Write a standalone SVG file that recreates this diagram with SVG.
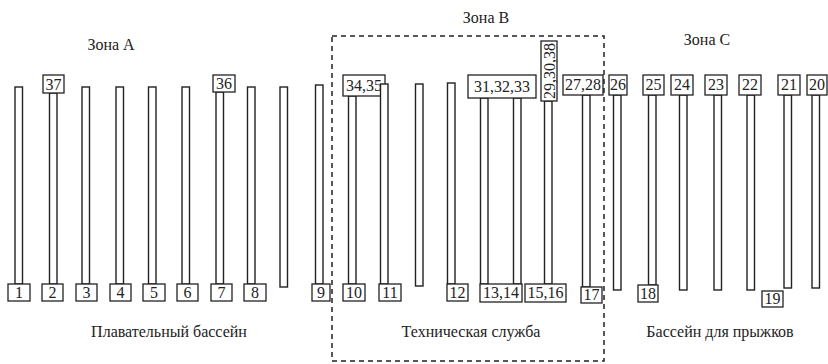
<svg xmlns="http://www.w3.org/2000/svg" width="828" height="364" viewBox="0 0 828 364" font-family="Liberation Serif, Times New Roman, serif">
<style>
.col{fill:#fff;stroke:#222;stroke-width:1.4}
.box{fill:#fff;stroke:#222;stroke-width:1.3}
.t{font-size:16px;fill:#222;text-anchor:middle}
.l{font-size:16px;fill:#222;text-anchor:middle}
.zone{fill:none;stroke:#222;stroke-width:1.5;stroke-dasharray:5,4}
</style>
<rect width="828" height="364" fill="#fff"/>
<g id="zones">
<rect class="zone" x="332" y="36" width="272" height="325"/>
<text class="l" x="111" y="50">Зона А</text>
<text class="l" x="486" y="23">Зона В</text>
<text class="l" x="707" y="45">Зона С</text>
<text class="l" x="169" y="337">Плавательный бассейн</text>
<text class="l" x="471" y="337">Техническая служба</text>
<text class="l" x="720" y="337">Бассейн для прыжков</text>
</g>
<g id="post1"><rect class="col" x="15" y="87" width="7.5" height="197"/><rect class="box" x="8" y="284" width="22" height="17"/><text class="t" x="19" y="298">1</text></g>
<g id="post2"><rect class="col" x="49.5" y="93" width="7.5" height="191"/><rect class="box" x="43" y="75" width="21" height="18"/><text class="t" x="53.5" y="90">37</text><rect class="box" x="42" y="284" width="21" height="17"/><text class="t" x="52.5" y="298">2</text></g>
<g id="post3"><rect class="col" x="82" y="87" width="7.5" height="197"/><rect class="box" x="76" y="284" width="21" height="17"/><text class="t" x="86.5" y="298">3</text></g>
<g id="post4"><rect class="col" x="116" y="87" width="7.5" height="197"/><rect class="box" x="110" y="284" width="21" height="17"/><text class="t" x="120.5" y="298">4</text></g>
<g id="post5"><rect class="col" x="148.5" y="87" width="7.5" height="197"/><rect class="box" x="143" y="284" width="22" height="17"/><text class="t" x="154" y="298">5</text></g>
<g id="post6"><rect class="col" x="182" y="87" width="7.5" height="197"/><rect class="box" x="177" y="284" width="21" height="17"/><text class="t" x="187.5" y="298">6</text></g>
<g id="post7"><rect class="col" x="216" y="92" width="7.5" height="192"/><rect class="box" x="213" y="75" width="22" height="17"/><text class="t" x="224" y="89">36</text><rect class="box" x="211" y="284" width="21" height="17"/><text class="t" x="221.5" y="298">7</text></g>
<g id="post8"><rect class="col" x="247.5" y="87" width="7.5" height="197"/><rect class="box" x="244" y="284" width="22" height="17"/><text class="t" x="255" y="298">8</text></g>
<g id="postA"><rect class="col" x="280" y="87" width="7.5" height="200"/></g>
<g id="post9"><rect class="col" x="315.5" y="85" width="7.5" height="199"/><rect class="box" x="312" y="284" width="18" height="17"/><text class="t" x="321" y="298">9</text></g>
<g id="post10"><rect class="col" x="348.5" y="96" width="7.5" height="188"/><rect class="box" x="343" y="75" width="42" height="21"/><text class="t" x="364" y="91">34,35</text><rect class="box" x="343" y="284" width="22" height="17"/><text class="t" x="354" y="298">10</text></g>
<g id="post11"><rect class="col" x="380.5" y="84" width="7.5" height="200"/><rect class="box" x="379" y="284" width="22" height="17"/><text class="t" x="390" y="298">11</text></g>
<g id="postB"><rect class="col" x="415.5" y="84" width="7.5" height="202"/></g>
<g id="post12"><rect class="col" x="447.5" y="83" width="7.5" height="201"/><rect class="box" x="447" y="284" width="21" height="17"/><text class="t" x="457.5" y="298">12</text></g>
<g id="post13"><rect class="col" x="480.5" y="98" width="7.5" height="186"/><rect class="col" x="513.5" y="98" width="7.5" height="186"/><rect class="box" x="468" y="75" width="68" height="23"/><text class="t" x="502" y="92">31,32,33</text><rect class="box" x="480" y="284" width="42" height="18"/><text class="t" x="501" y="298">13,14</text></g>
<g id="post15"><rect class="col" x="544.5" y="101" width="7.5" height="183"/><rect class="box" x="541" y="41" width="16" height="60"/><text class="t" transform="translate(554.5 71) rotate(-90)">29,30,38</text><rect class="box" x="525" y="284" width="41" height="18"/><text class="t" x="545.5" y="298">15,16</text></g>
<g id="post17"><rect class="col" x="582.5" y="95" width="7.5" height="192"/><rect class="box" x="563" y="75" width="40" height="20"/><text class="t" x="583" y="90">27,28</text><rect class="box" x="581" y="287" width="21" height="16"/><text class="t" x="591.5" y="300">17</text></g>
<g id="post26"><rect class="col" x="613.5" y="95" width="7.5" height="195"/><rect class="box" x="609" y="75" width="18" height="20"/><text class="t" x="618" y="90">26</text></g>
<g id="post25"><rect class="col" x="648.5" y="95" width="7.5" height="190"/><rect class="box" x="643" y="75" width="21" height="20"/><text class="t" x="653.5" y="90">25</text><rect class="box" x="638" y="285" width="20" height="17"/><text class="t" x="648" y="299">18</text></g>
<g id="post24"><rect class="col" x="679.5" y="95" width="7.5" height="195"/><rect class="box" x="671" y="75" width="22" height="20"/><text class="t" x="682" y="90">24</text></g>
<g id="post23"><rect class="col" x="714" y="95" width="7.5" height="195"/><rect class="box" x="705" y="75" width="22" height="20"/><text class="t" x="716" y="90">23</text></g>
<g id="post22"><rect class="col" x="747" y="95" width="7.5" height="195"/><rect class="box" x="739" y="75" width="22" height="20"/><text class="t" x="750" y="90">22</text></g>
<g id="post21"><rect class="col" x="784" y="95" width="7.5" height="193"/><rect class="box" x="778" y="75" width="22" height="20"/><text class="t" x="789" y="90">21</text></g>
<g id="post20"><rect class="col" x="812" y="95" width="7.5" height="193"/><rect class="box" x="807" y="75" width="20" height="20"/><text class="t" x="817" y="90">20</text></g>
<g id="label19"><rect class="box" x="762" y="291" width="21" height="16"/><text class="t" x="772.5" y="304">19</text></g>
</svg>
